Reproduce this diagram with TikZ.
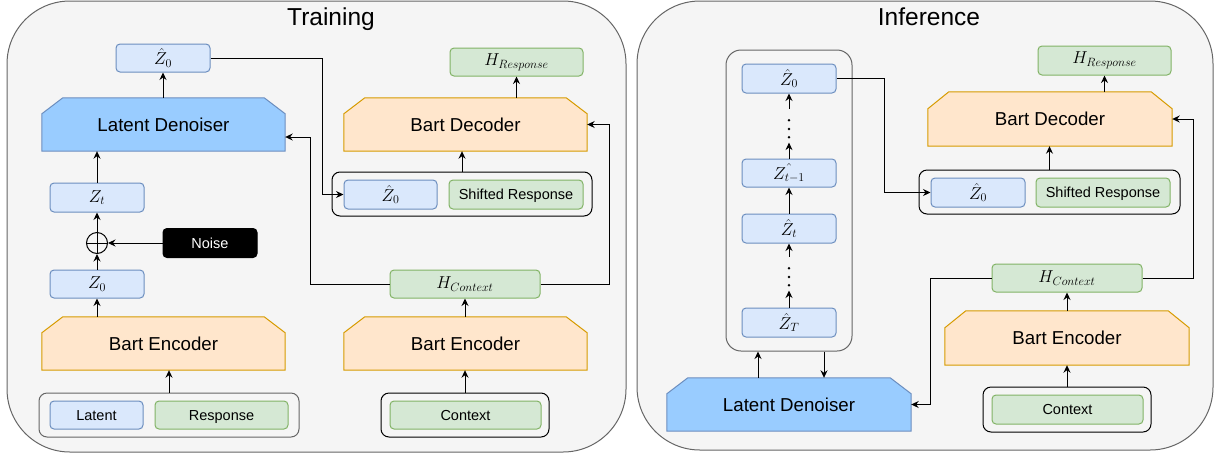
\documentclass[tikz,border=0pt]{standalone}
\usepackage{fontspec}
\setmainfont{Liberation Sans}
\usetikzlibrary{arrows.meta,calc}
\definecolor{panelfill}{HTML}{F5F5F5}
\definecolor{panelline}{HTML}{666666}
\definecolor{bluefill}{HTML}{DAE8FC}
\definecolor{blueline}{HTML}{6C8EBF}
\definecolor{greenfill}{HTML}{D5E8D4}
\definecolor{greenline}{HTML}{82B366}
\definecolor{orangefill}{HTML}{FFE6CC}
\definecolor{orangeline}{HTML}{D79B00}
\definecolor{denfill}{HTML}{99CCFF}
\pgfdeclarelayer{bg}
\pgfdeclarelayer{shape}
\pgfsetlayers{bg,shape,main}
\newcommand{\fslabel}{\fontsize{14.5}{17}\selectfont}
\newcommand{\fsbig}{\fontsize{18.7}{22}\selectfont}
\newcommand{\fsmath}{\fontsize{16.7}{20}\selectfont}
\newcommand{\fstitle}{\fontsize{24.5}{28}\selectfont}
\newcommand{\drawchamf}[4]{%
  \path[#2] (#1.south west) -- ($(#1.north west)+(0,#4)$) -- ($(#1.north west)+(#3,0)$)
    -- ($(#1.north east)+(-#3,0)$) -- ($(#1.north east)+(0,#4)$) -- (#1.south east) -- cycle;}
\tikzset{
  sz/.style 2 args={minimum width=#1pt, minimum height=#2pt},
  basebox/.style={rounded corners=4pt, line width=1pt, inner sep=0pt},
  bluebox/.style={basebox, draw=blueline, fill=bluefill, font=\fsmath},
  greenmath/.style={basebox, draw=greenline, fill=greenfill, font=\fsmath},
  greenlbl/.style={basebox, draw=greenline, fill=greenfill, font=\fslabel, text height=10.4pt, text depth=0pt},
  bluelbl/.style={basebox, draw=blueline, fill=bluefill, font=\fslabel, text height=10.4pt, text depth=0pt},
  noisebox/.style={basebox, draw=black, fill=black, text=white, font=\fslabel, text height=10.4pt, text depth=0pt},
  bigtext/.style={inner sep=0pt, font=\fsbig, text height=13.4pt, text depth=0pt},
  grpblack/.style={draw=black, line width=1pt, rounded corners=8pt, inner sep=0pt},
  grpgray/.style={draw=panelline, line width=1pt, rounded corners=8pt, inner sep=0pt},
  denshape/.style={fill=denfill, draw=blueline, line width=1pt},
  orshape/.style={fill=orangefill, draw=orangeline, line width=1pt},
  panel/.style={fill=panelfill, draw=panelline, line width=1pt, rounded corners=63pt},
  arr/.style={-{Stealth[length=7.5pt,width=7pt,inset=2.5pt]}, line width=1pt, draw=black},
  dotpt/.style={fill=black},
}
\begin{document}
\begin{tikzpicture}[x=1pt,y=-1pt]
\useasboundingbox (0,0) rectangle (1218,456);
\begin{pgfonlayer}{bg}
\path[panel] (7,1) rectangle (626,452);
\path[panel] (637,1) rectangle (1213,450);
\end{pgfonlayer}
\node[anchor=base, font=\fstitle, inner sep=0pt] (ttrain) at (331,25) {Training};
\node[anchor=base, font=\fstitle, inner sep=0pt] (tinfer) at (929,25) {Inference};

% ---------- Training ----------
\node[bluebox, sz={94}{28}] (zhA) at (163,58) {$\hat{Z}_0$};
\node[bigtext, sz={243}{53}] (ldA) at (163.5,124.5) {Latent Denoiser};
\node[bluebox, sz={94}{29}] (ztA) at (97,197.5) {$Z_t$};
\node[circle, draw=black, line width=1pt, minimum size=21pt, inner sep=0pt,
  path picture={\draw[line width=1pt] (path picture bounding box.north) -- (path picture bounding box.south);
  \draw[line width=1pt] (path picture bounding box.west) -- (path picture bounding box.east);}] (plus) at (97,243) {};
\node[noisebox, sz={94}{29}] (noise) at (210,243) {Noise};
\node[bluebox, sz={94}{28}] (zzA) at (97,284) {$Z_0$};
\node[bigtext, sz={243}{53}] (beA) at (163.5,343.5) {Bart Encoder};
\node[grpgray, sz={260}{44}] (grpA) at (169,415) {};
\node[bluelbl, sz={93}{28}] (latent) at (96.5,415) {Latent};
\node[greenlbl, sz={133}{28}] (resp) at (221.5,415) {Response};

\node[greenmath, sz={133}{28}] (hrA) at (516.5,62) {$H_{Response}$};
\node[bigtext, sz={243}{53}] (bdA) at (465.5,124.5) {Bart Decoder};
\node[grpblack, sz={260}{44}] (grpB) at (462,194) {};
\node[bluebox, sz={93}{29}] (zhB) at (390.5,194.5) {$\hat{Z}_0$};
\node[greenlbl, sz={134}{29}] (shA) at (516,194.5) {Shifted Response};
\node[greenmath, sz={150}{28}] (hcA) at (465,284) {$H_{Context}$};
\node[bigtext, sz={243}{53}] (beB) at (465.5,343.5) {Bart Encoder};
\node[grpblack, sz={168}{44}] (grpC) at (465,415) {};
\node[greenlbl, sz={151}{28}] (ctxA) at (465.5,415) {Context};

% ---------- Inference ----------
\node[grpgray, rounded corners=15pt, sz={126}{301}] (stack) at (789,200.5) {};
\node[bluebox, sz={94}{29}] (zhC) at (789,78.5) {$\hat{Z}_0$};
\node[inner sep=0pt, sz={4}{33.6}] (dA) at (789,125.6) {};
\node[bluebox, sz={94}{28}] (ztm) at (789,173) {$\hat{Z_{t-1}}$};
\node[bluebox, sz={94}{29}] (ztC) at (789,228.5) {$\hat{Z}_t$};
\node[inner sep=0pt, sz={4}{33.6}] (dB) at (789,273.5) {};
\node[bluebox, sz={94}{29}] (zT) at (789,322.5) {$\hat{Z}_T$};
\node[bigtext, sz={244}{53}] (ldC) at (789,404.5) {Latent Denoiser};

\node[greenmath, sz={133}{29}] (hrB) at (1104.5,60.5) {$H_{Response}$};
\node[bigtext, sz={244}{54}] (bdB) at (1050,119) {Bart Decoder};
\node[grpblack, sz={261}{44}] (grpD) at (1049.5,192) {};
\node[bluebox, sz={94}{29}] (zhD) at (978,192.5) {$\hat{Z}_0$};
\node[greenlbl, sz={134}{29}] (shB) at (1103,192.5) {Shifted Response};
\node[greenmath, sz={150}{28}] (hcB) at (1067,278) {$H_{Context}$};
\node[bigtext, sz={244}{54}] (beC) at (1067,338) {Bart Encoder};
\node[grpblack, sz={168}{45}] (grpE) at (1067,409.5) {};
\node[greenlbl, sz={151}{29}] (ctxB) at (1067.5,409.5) {Context};

\begin{pgfonlayer}{shape}
\drawchamf{ldA}{denshape}{21}{16}
\drawchamf{beA}{orshape}{21}{16}
\drawchamf{bdA}{orshape}{21}{16}
\drawchamf{beB}{orshape}{21}{16}
\drawchamf{ldC}{denshape}{21}{16}
\drawchamf{bdB}{orshape}{21}{17}
\drawchamf{beC}{orshape}{21}{17}
\end{pgfonlayer}

% dots
\fill[dotpt] (789,120.3) circle (1.4pt) (789,129) circle (1.4pt) (789,137.3) circle (1.4pt);
\fill[dotpt] (789,268.3) circle (1.4pt) (789,277) circle (1.4pt) (789,285.3) circle (1.4pt);

% ---------- Training connectors ----------
\draw[arr] (zhA.south |- ldA.north) -- (zhA.south);
\draw[arr] (ztA.north) -- (ztA.north |- ldA.south);
\draw[arr] (plus.north) -- (ztA.south);
\draw[arr] (zzA.north) -- (plus.south);
\draw[arr] (noise.west) -- (plus.east);
\draw[arr] (zzA.south |- beA.north) -- (zzA.south);
\draw[arr] (grpA.north) -- (grpA.north |- beA.south);
\draw[arr] (zhA.east) -- ++(112,0) |- (zhB.west);
\draw[arr] (hcA.west) -- ++(-79,0) |- ($(ldA.east)+(0,12.5)$);
\draw[arr] (hcA.east) -- ++(69,0) |- (bdA.east);
\draw[arr] (hrA.south |- bdA.north) -- (hrA.south);
\draw[arr] (grpB.north) -- (grpB.north |- bdA.south);
\draw[arr] (hcA.south |- beB.north) -- (hcA.south);
\draw[arr] (grpC.north) -- (grpC.north |- beB.south);

% ---------- Inference connectors ----------
\draw[arr] (ztm.north) -- (dA.south);
\draw[arr] (dA.north) -- (zhC.south);
\draw[arr] (ztC.north) -- (ztm.south);
\draw[arr] (zT.north) -- (dB.south);
\draw[arr] (dB.north) -- (ztC.south);
\coordinate (ldCa) at (758,378);
\coordinate (stb) at (824,351);
\draw[arr] (ldCa |- ldC.north) -- (ldCa |- stack.south);
\draw[arr] (stb |- stack.south) -- (stb |- ldC.north);
\draw[arr] (zhC.east) -- ++(48,0) |- (zhD.west);
\draw[arr] (hrB.south |- bdB.north) -- (hrB.south);
\draw[arr] (grpD.north) -- (grpD.north |- bdB.south);
\draw[arr] (hcB.west) -- ++(-61,0) |- (ldC.east);
\draw[arr] (hcB.east) -- ++(51,0) |- (bdB.east);
\draw[arr] (hcB.south |- beC.north) -- (hcB.south);
\draw[arr] (grpE.north) -- (grpE.north |- beC.south);
\end{tikzpicture}
\end{document}
